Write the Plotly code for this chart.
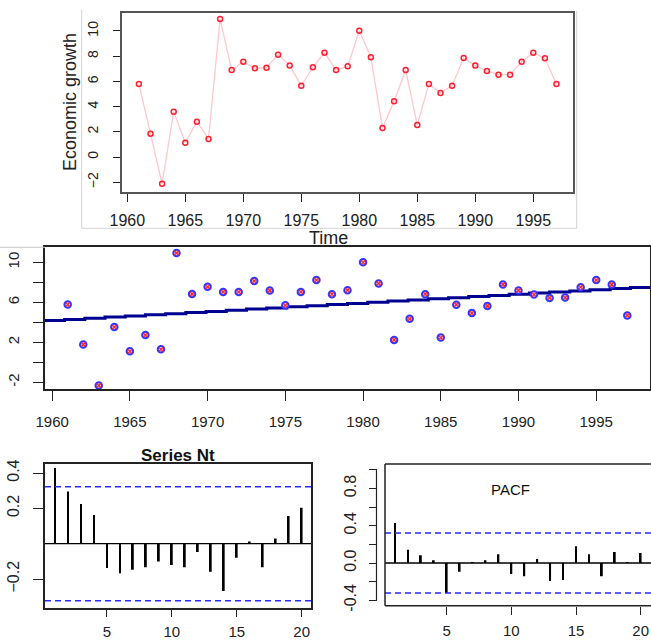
import plotly.graph_objects as go

W, H = 651, 641

# ---------------- data ----------------
years = [1961, 1962, 1963, 1964, 1965, 1966, 1967, 1968, 1969, 1970,
         1971, 1972, 1973, 1974, 1975, 1976, 1977, 1978, 1979, 1980,
         1981, 1982, 1983, 1984, 1985, 1986, 1987, 1988, 1989, 1990,
         1991, 1992, 1993, 1994, 1995, 1996, 1997]
growth_top = [5.8, 1.85, -2.12, 3.6, 1.13, 2.8, 1.43, 10.95, 6.9, 7.56,
              7.04, 7.09, 8.12, 7.25, 5.66, 7.12, 8.28, 6.9, 7.2, 10.02,
              7.91, 2.3, 4.42, 6.9, 2.54, 5.8, 5.08, 5.66, 7.86, 7.25,
              6.83, 6.53, 6.53, 7.56, 8.28, 7.83, 5.8]
growth_mid = [5.77, 1.78, -2.32, 3.52, 1.1, 2.72, 1.3, 10.93, 6.83, 7.55,
              7.04, 7.04, 8.12, 7.18, 5.7, 7.04, 8.22, 6.81, 7.21, 10.0,
              7.88, 2.24, 4.35, 6.81, 2.47, 5.76, 4.92, 5.63, 7.78, 7.18,
              6.77, 6.44, 6.47, 7.51, 8.22, 7.78, 4.69]
trend_x = [1959.5, 1960.8, 1962.1, 1963.4, 1964.7, 1966.0, 1967.3, 1968.6,
           1969.9, 1971.2, 1972.5, 1973.8, 1975.1, 1976.4, 1977.7, 1979.0,
           1980.3, 1981.6, 1982.9, 1984.2, 1985.5, 1986.8, 1988.1, 1989.4,
           1990.7, 1992.0, 1993.3, 1994.6, 1995.9, 1997.2, 1998.5]
trend_y = [4.18, 4.29, 4.41, 4.52, 4.64, 4.75, 4.86, 4.98, 5.09, 5.21,
           5.32, 5.43, 5.55, 5.66, 5.78, 5.89, 6.00, 6.12, 6.23, 6.35,
           6.46, 6.57, 6.69, 6.80, 6.92, 7.03, 7.14, 7.26, 7.37, 7.49, 7.60]
lags = list(range(1, 21))
acf_vals = [0.428, 0.296, 0.224, 0.163, -0.138, -0.167, -0.148, -0.133, -0.100, -0.121,
            -0.133, -0.047, -0.159, -0.267, -0.080, 0.013, -0.133, 0.030, 0.157, 0.203]
pacf_vals = [0.430, 0.143, 0.083, 0.029, -0.323, -0.093, 0.004, 0.029, 0.093, -0.118,
             -0.143, 0.043, -0.194, -0.183, 0.179, 0.093, -0.143, 0.118, 0.004, 0.108]
conf = 0.322

year_ticks = [1960, 1965, 1970, 1975, 1980, 1985, 1990, 1995]
top_yticks = [-2, 0, 2, 4, 6, 8, 10]
mid_yticks = [-2, 0, 2, 4, 6, 8, 10]
mid_ytext = ["-2", "", "2", "", "6", "", "10"]
lag_ticks = [5, 10, 15, 20]
acf_yticks = [0.4, 0.2, -0.2]
pacf_yticks = [-0.4, -0.2, 0.0, 0.2, 0.4, 0.6, 0.8, 1.0]
pacf_ytext = ["-0.4", "", "0.0", "", "0.4", "", "0.8", ""]


def px(x):
    return x / W


def py(y):
    return 1 - y / H


fig = go.Figure()

# top panel
fig.add_trace(go.Scatter(x=years, y=growth_top, mode="lines+markers",
                         line=dict(color="#ffc8cf", width=1.3),
                         marker=dict(symbol="circle-open", size=5, color="#ff2030",
                                     line=dict(width=1.5, color="#ff2030")),
                         xaxis="x", yaxis="y", hoverinfo="skip"))
# middle panel
fig.add_trace(go.Scatter(x=trend_x, y=trend_y, mode="lines", line_shape="hv",
                         line=dict(color="#000090", width=3),
                         xaxis="x2", yaxis="y2", hoverinfo="skip"))
fig.add_trace(go.Scatter(x=years, y=growth_mid, mode="markers",
                         marker=dict(symbol="circle", size=6.5, color="#ffc0c0",
                                     line=dict(width=2, color="#3535ff")),
                         xaxis="x2", yaxis="y2", hoverinfo="skip"))
fig.add_trace(go.Scatter(x=years, y=growth_mid, mode="markers",
                         marker=dict(symbol="x-thin-open", size=4, color="#ff2020",
                                     line=dict(width=1.2, color="#ff2020")),
                         xaxis="x2", yaxis="y2", hoverinfo="skip"))
# ACF
fig.add_trace(go.Bar(x=lags, y=acf_vals, width=0.14, marker=dict(color="black", line_width=0),
                     xaxis="x3", yaxis="y3", hoverinfo="skip"))
# PACF
fig.add_trace(go.Bar(x=lags, y=pacf_vals, width=0.14, marker=dict(color="black", line_width=0),
                     xaxis="x4", yaxis="y4", hoverinfo="skip"))

tickfont = dict(family="Liberation Sans, Arial, sans-serif", size=16, color="#222")
botfont = dict(family="Liberation Sans, Arial, sans-serif", size=15, color="#222")
midfont = dict(family="Liberation Sans, Arial, sans-serif", size=15, color="#222")

common = dict(showgrid=False, zeroline=False, ticks="outside", tickcolor="#222", tickwidth=1.2,
              automargin=False)

fig.update_layout(
    width=W, height=H, autosize=False, margin=dict(l=0, r=0, t=0, b=0, pad=0),
    paper_bgcolor="white", plot_bgcolor="white", showlegend=False,
    barmode="overlay",
    xaxis=dict(domain=[px(122.3), px(573.3)], range=[1959.57, 1998.45], anchor="y",
               tickvals=year_ticks, ticklen=8, tickfont=tickfont, ticklabelstandoff=5,
               showline=True, mirror=True, linecolor="#555", linewidth=2, **common),
    yaxis=dict(domain=[py(191.7), py(13.3)], range=[-2.75, 11.4], anchor="x",
               tickvals=top_yticks, ticklen=7, tickangle=-90,
               tickfont=dict(family="Liberation Sans, Arial, sans-serif", size=14, color="#222"),
               ticklabelstandoff=10,
               showline=True, mirror=True, linecolor="#555", linewidth=2, **common),
    xaxis2=dict(domain=[px(45), px(650)], range=[1959.54, 1998.46], anchor="y2",
                tickvals=year_ticks, ticklen=10, tickfont=midfont, ticklabelstandoff=8,
                showline=True, mirror=True, linecolor="#222", linewidth=1.5, **common),
    yaxis2=dict(domain=[py(389), py(247.3)], range=[-2.67, 11.5], anchor="x2",
                tickvals=mid_yticks, ticktext=mid_ytext, ticklen=10, tickangle=-90,
                tickfont=midfont, ticklabelstandoff=8,
                showline=True, mirror=True, linecolor="#222", linewidth=1.5, **common),
    xaxis3=dict(domain=[px(45), px(311)], range=[0.23, 20.72], anchor="y3",
                tickvals=lag_ticks, ticklen=8, tickfont=botfont, ticklabelstandoff=2,
                showline=True, mirror=True, linecolor="#222", linewidth=1.5, **common),
    yaxis3=dict(domain=[py(607.7), py(464)], range=[-0.362, 0.451], anchor="x3",
                tickvals=acf_yticks, ticklen=10, tickangle=-90, tickfont=tickfont,
                ticklabelstandoff=8,
                showline=True, mirror=True, linecolor="#222", linewidth=1.5, **common),
    xaxis4=dict(domain=[px(385), 1.0], range=[0.227, 20.8], anchor="y4",
                tickvals=lag_ticks, ticklen=8, tickfont=botfont, ticklabelstandoff=3,
                showline=False, **common),
    yaxis4=dict(domain=[py(605.7), py(464)], range=[-0.458, 1.062], anchor="free",
                position=px(376.5),
                tickvals=pacf_yticks, ticktext=pacf_ytext, ticklen=8, tickangle=-90,
                tickfont=tickfont, ticklabelstandoff=6,
                showline=False, **common),
)

shapes = []
# confidence bands and zero lines
for xr, yr in (("x3", "y3"), ("x4", "y4")):
    for c in (conf, -conf):
        shapes.append(dict(type="line", xref=f"{xr} domain", yref=yr, x0=0, x1=1, y0=c, y1=c,
                           line=dict(color="#2a2aff", width=1.5, dash="6px,4px")))
    shapes.append(dict(type="line", xref=f"{xr} domain", yref=yr, x0=0, x1=1, y0=0, y1=0,
                       line=dict(color="black", width=1.3)))
# PACF box (top, bottom, left) and separate axis line
shapes.append(dict(type="line", xref="x4 domain", yref="y4 domain", x0=0, x1=1, y0=1, y1=1,
                   line=dict(color="#222", width=1.5)))
shapes.append(dict(type="line", xref="x4 domain", yref="y4 domain", x0=0, x1=1, y0=0, y1=0,
                   line=dict(color="#222", width=1.5)))
shapes.append(dict(type="line", xref="x4 domain", yref="y4 domain", x0=0, x1=0, y0=0, y1=1,
                   line=dict(color="#222", width=1.5)))
shapes.append(dict(type="line", xref="paper", yref="y4", x0=px(376.5), x1=px(376.5), y0=-0.4, y1=1.0,
                   line=dict(color="#222", width=1.2)))
# light frame around the top image
shapes.append(dict(type="line", xref="paper", yref="paper", x0=px(81.7), x1=px(81.7), y0=py(228.3), y1=py(10),
                   line=dict(color="#d4d4d4", width=1)))
shapes.append(dict(type="line", xref="paper", yref="paper", x0=px(576.7), x1=px(576.7), y0=py(228.3), y1=py(11),
                   line=dict(color="#d4d4d4", width=1)))
shapes.append(dict(type="line", xref="paper", yref="paper", x0=px(81.7), x1=px(576.7), y0=py(228.3), y1=py(228.3),
                   line=dict(color="#d4d4d4", width=1)))
shapes.append(dict(type="line", xref="paper", yref="paper", x0=0, x1=px(45), y0=py(247.3), y1=py(247.3),
                   line=dict(color="#c8c8c8", width=1)))
fig.update_layout(shapes=shapes)

ann = dict(xref="paper", yref="paper", showarrow=False, xanchor="center", yanchor="middle")
fig.add_annotation(x=px(328), y=py(238), text="Time",
                   font=dict(family="Liberation Sans, Arial, sans-serif", size=18, color="#222"), **ann)
fig.add_annotation(x=px(70), y=py(102), text="Economic growth", textangle=-90,
                   font=dict(family="Liberation Sans, Arial, sans-serif", size=18, color="#222"), **ann)
fig.add_annotation(x=px(178), y=py(455), text="<b>Series Nt</b>",
                   font=dict(family="Liberation Sans, Arial, sans-serif", size=17, color="#111"), **ann)
fig.add_annotation(x=px(510), y=py(489), text="PACF",
                   font=dict(family="Liberation Sans, Arial, sans-serif", size=15, color="#111"), **ann)

fig.write_html("out.html", config={"displayModeBar": False},
               post_script="document.body.style.margin='0px';document.body.style.overflow='hidden';")
